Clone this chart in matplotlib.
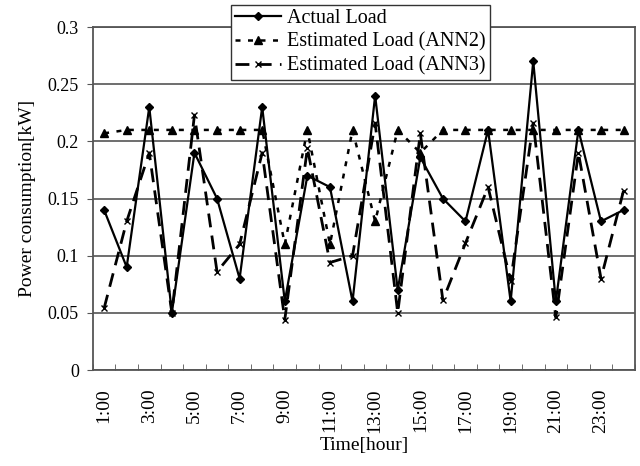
import numpy as np
import matplotlib
matplotlib.use('Agg')
import matplotlib.pyplot as plt

plt.rcParams['font.family'] = ['Liberation Serif', 'DejaVu Serif']

hours = [f'{h}:00' for h in range(1, 25)]
actual_load = [0.14, 0.09, 0.23, 0.05, 0.19, 0.15, 0.08, 0.23, 0.06, 0.17, 0.16, 0.06,
               0.24, 0.07, 0.186, 0.15, 0.13, 0.21, 0.06, 0.27, 0.06, 0.21, 0.13, 0.14]
ann2_load = [0.207, 0.21, 0.21, 0.21, 0.21, 0.21, 0.21, 0.21, 0.11, 0.21, 0.11, 0.21,
             0.13, 0.21, 0.19, 0.21, 0.21, 0.21, 0.21, 0.21, 0.21, 0.21, 0.21, 0.21]
ann3_load = [0.054, 0.13, 0.19, 0.05, 0.223, 0.086, 0.11, 0.19, 0.044, 0.194, 0.094, 0.10,
             0.216, 0.05, 0.207, 0.061, 0.111, 0.16, 0.078, 0.216, 0.046, 0.19, 0.08, 0.157]

x = np.arange(len(hours))

fig = plt.figure(figsize=(6.4, 4.66), dpi=100)
ax = fig.add_axes([0.145, 0.206, 0.847, 0.736])

ax.plot(x, actual_load, color='black', lw=1.6, marker='D', ms=4, label='Actual Load', zorder=4)
ax.plot(x, ann2_load, color='black', lw=1.8, ls=(0, (2, 3)), marker='^', ms=6,
        label='Estimated Load (ANN2)', zorder=3)
ax.plot(x, ann3_load, color='black', lw=2.0, ls=(0, (5, 3)), marker='x', ms=4, mew=1,
        label='Estimated Load (ANN3)', zorder=3)

ax.set_xlim(-0.5, len(hours) - 0.5)
ax.set_ylim(0, 0.3)
ax.set_yticks(np.arange(0, 0.31, 0.05))
ax.set_yticklabels(['0', '0.05', '0.1', '0.15', '0.2', '0.25', '0.3'])
ax.yaxis.grid(True, color='#555555', lw=1.2)
ax.set_axisbelow(True)

ax.set_xticks(x[::2])
ax.set_xticklabels(hours[::2], rotation=90)
ax.set_xticks(np.arange(-0.5, len(hours), 1), minor=True)
ax.tick_params(axis='x', which='major', length=0, pad=13, labelsize=14)
ax.tick_params(axis='x', which='minor', direction='in', length=4, color='#555555')
ax.tick_params(axis='y', length=4, color='#555555', labelsize=13, pad=6)

for s in ax.spines.values():
    s.set_color('#555555')
    s.set_linewidth(1.3)

ax.set_xlabel('Time[hour]', fontsize=14, labelpad=3)
ax.set_ylabel('Power consumption[kW]', fontsize=14, labelpad=8)

leg = ax.legend(loc='upper center', bbox_to_anchor=(0.493, 1.064), fontsize=14.5,
                frameon=True, fancybox=False, edgecolor='#333333', framealpha=1,
                handlelength=2.3, handletextpad=0.3, borderpad=0.2, labelspacing=0.22,
                borderaxespad=0)
leg.get_frame().set_linewidth(1.0)

fig.savefig('out.png', dpi=100)
